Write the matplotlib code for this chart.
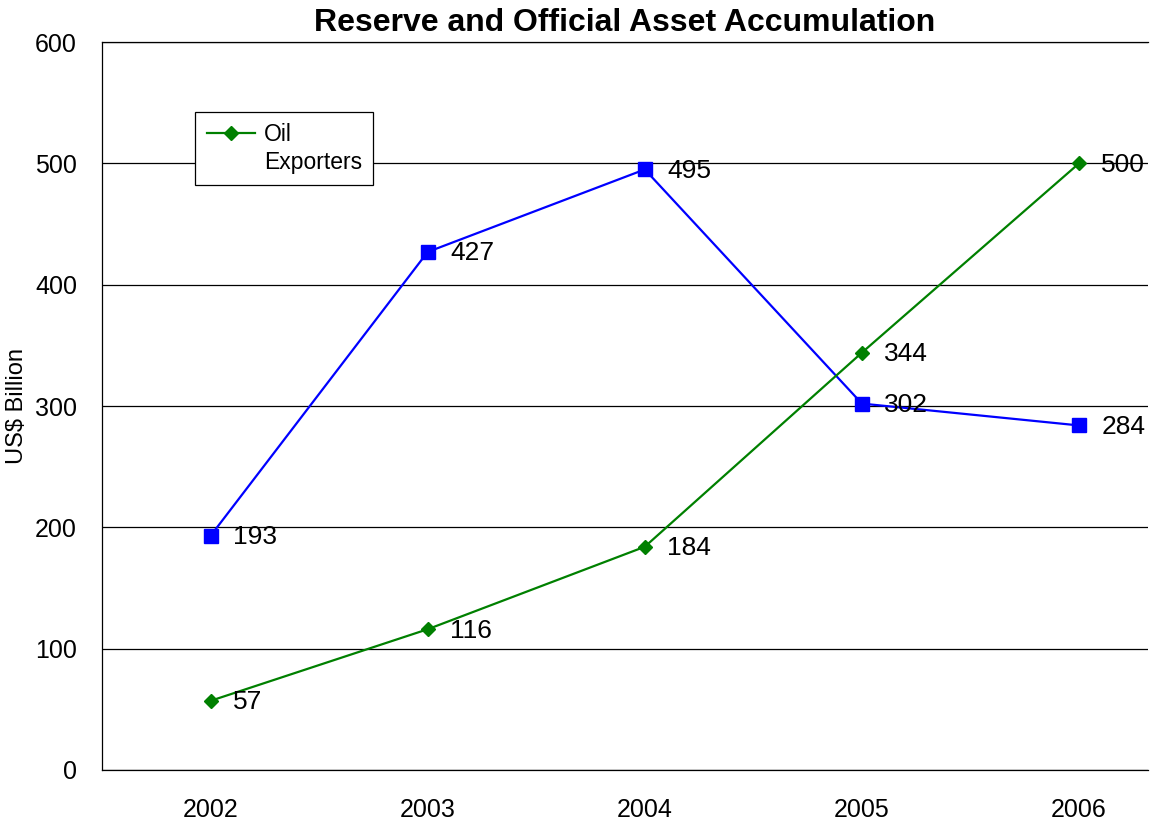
import matplotlib
matplotlib.use("Agg")
import matplotlib.pyplot as plt
from matplotlib.lines import Line2D

years = ["2002", "2003", "2004", "2005", "2006"]
blue_values = [193, 427, 495, 302, 284]
oil_exporters = [57, 116, 184, 344, 500]
y_ticks = [0, 100, 200, 300, 400, 500, 600]

FONT = "Liberation Sans"

fig = plt.figure(figsize=(11.5, 8.25), dpi=100)
ax = fig.add_axes([0.0887, 0.0667, 0.9096, 0.8823])

x = list(range(len(years)))
ax.plot(x, blue_values, color="#0000FF", lw=1.6, marker="s", markersize=10.5, zorder=3)
oil_line, = ax.plot(x, oil_exporters, color="#008000", lw=1.6, marker="D", markersize=7,
                    zorder=3)

for xi, v in zip(x, blue_values):
    ax.annotate(str(v), (xi, v), xytext=(16, -1), textcoords="offset points",
                va="center", ha="left", fontsize=19, family=FONT)
for xi, v in zip(x, oil_exporters):
    ax.annotate(str(v), (xi, v), xytext=(16, -1), textcoords="offset points",
                va="center", ha="left", fontsize=19, family=FONT)

ax.set_xlim(-0.5, 4.318)
ax.set_ylim(0, 600)
ax.set_yticks(y_ticks)
ax.set_xticks(x)
ax.set_xticklabels(years, family=FONT, fontsize=18)
ax.set_yticklabels([str(t) for t in y_ticks], family=FONT, fontsize=18)
ax.tick_params(axis="both", length=0)
ax.tick_params(axis="y", pad=18)
ax.tick_params(axis="x", pad=20)
ax.yaxis.grid(True, color="black", lw=0.9)
ax.set_axisbelow(True)
for s in ["left", "bottom", "top"]:
    ax.spines[s].set_color("black")
    ax.spines[s].set_linewidth(0.9)
ax.spines["right"].set_visible(False)

ax.set_ylabel("US$ Billion", family=FONT, fontsize=17)
ax.yaxis.set_label_coords(-0.0707, 0.5)
ax.set_title("Reserve and Official Asset Accumulation", family=FONT,
             fontweight="bold", fontsize=23, pad=8)

blank = Line2D([], [], color="none")
leg = ax.legend([oil_line, blank], ["Oil", "Exporters"], loc="upper left",
                bbox_to_anchor=(0.089, 0.904), borderaxespad=0, frameon=True,
                fancybox=False, edgecolor="black", framealpha=1,
                prop={"family": FONT, "size": 16.5},
                handlelength=2.1, borderpad=0.5, handletextpad=0.4,
                labelspacing=0.2)
leg.get_frame().set_linewidth(0.9)

fig.savefig("out.png", dpi=100)
